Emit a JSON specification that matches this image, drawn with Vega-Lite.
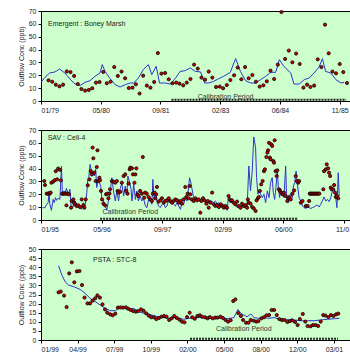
{
"$schema": "https://vega.github.io/schema/vega-lite/v6.json",
"padding": {"left": 16, "top": 6, "right": 0, "bottom": 0},
"spacing": 29,
"bounds": "flush",
"config": {
  "view": {"fill": "#ccffcc", "stroke": "#000", "strokeWidth": 1},
  "font": "Liberation Sans",
  "axis": {"grid": false, "labelOverlap": false, "tickCount": 30, "labelFontSize": 7, "titleFontSize": 7, "titleFontWeight": "normal", "labelColor": "#222", "titleColor": "#222", "domainColor": "#000", "tickColor": "#000", "tickSize": 3, "labelPadding": 2, "titlePadding": 4}
},
"datasets": {
  "p1line": [
    {"date":"1979-01-01","value":14.5},{"date":"1979-02-03","value":18.4},{"date":"1979-03-15","value":21.8},{"date":"1979-04-28","value":22.6},{"date":"1979-06-06","value":24.9},{"date":"1979-07-19","value":21.8},{"date":"1979-09-01","value":17.1},{"date":"1979-10-12","value":13.2},{"date":"1979-11-24","value":12},{"date":"1980-01-04","value":14.5},{"date":"1980-02-15","value":15.8},{"date":"1980-03-28","value":19.2},{"date":"1980-05-09","value":21.8},{"date":"1980-05-28","value":28.3},{"date":"1980-06-20","value":23},{"date":"1980-08-01","value":17.4},{"date":"1980-09-12","value":12.7},{"date":"1980-10-24","value":10.9},{"date":"1980-12-06","value":12.7},{"date":"1981-01-18","value":14},{"date":"1981-02-15","value":14},{"date":"1981-03-26","value":17.9},{"date":"1981-05-06","value":24.4},{"date":"1981-06-18","value":28.3},{"date":"1981-07-16","value":20.5},{"date":"1981-08-22","value":27},{"date":"1981-09-19","value":14},{"date":"1981-11-06","value":14},{"date":"1981-12-18","value":13.2},{"date":"1982-02-01","value":17.9},{"date":"1982-03-10","value":23},{"date":"1982-04-22","value":23.6},{"date":"1982-06-03","value":25.7},{"date":"1982-07-16","value":23},{"date":"1982-08-28","value":22.6},{"date":"1982-10-01","value":14},{"date":"1982-11-06","value":14},{"date":"1982-12-16","value":15.3},{"date":"1983-01-28","value":17.4},{"date":"1983-03-10","value":19.2},{"date":"1983-05-04","value":22.3},{"date":"1983-06-18","value":33},{"date":"1983-07-28","value":23},{"date":"1983-09-09","value":15.8},{"date":"1983-10-21","value":14},{"date":"1983-12-01","value":14},{"date":"1984-01-13","value":16.6},{"date":"1984-02-25","value":19.2},{"date":"1984-04-06","value":22.3},{"date":"1984-05-18","value":22.3},{"date":"1984-06-18","value":32.2},{"date":"1984-07-25","value":27},{"date":"1984-09-21","value":21.8},{"date":"1984-10-18","value":13.2},{"date":"1984-12-01","value":13.2},{"date":"1985-01-12","value":16.6},{"date":"1985-02-22","value":17.9},{"date":"1985-04-04","value":21.8},{"date":"1985-05-16","value":26.4},{"date":"1985-06-13","value":33},{"date":"1985-07-10","value":23},{"date":"1985-08-22","value":21.8},{"date":"1985-10-04","value":16.6},{"date":"1985-11-16","value":14},{"date":"1985-12-13","value":14.5}
  ],
  "p1obs": [
    {"date":"1979-03-05","value":16.1},{"date":"1979-04-05","value":15},{"date":"1979-05-05","value":12.7},{"date":"1979-06-05","value":11.4},{"date":"1979-07-05","value":12.7},{"date":"1979-08-05","value":23},{"date":"1979-09-05","value":22.5},{"date":"1979-10-05","value":19.5},{"date":"1979-11-05","value":13.2},{"date":"1979-12-05","value":9.3},
    {"date":"1980-01-05","value":8.1},{"date":"1980-02-05","value":8.6},{"date":"1980-03-05","value":9.9},{"date":"1980-04-05","value":14.3},{"date":"1980-05-05","value":14.8},{"date":"1980-06-05","value":22.6},{"date":"1980-07-05","value":13.8},{"date":"1980-08-05","value":15},{"date":"1980-09-05","value":26.4},{"date":"1980-10-05","value":19.5},{"date":"1980-11-05","value":22.9},{"date":"1980-12-05","value":17.7},
    {"date":"1981-01-05","value":10.1},{"date":"1981-02-05","value":10.4},{"date":"1981-03-05","value":13},{"date":"1981-04-05","value":5.8},{"date":"1981-05-05","value":19.7},{"date":"1981-06-05","value":12},{"date":"1981-07-05","value":10.4},{"date":"1981-08-05","value":14.8},{"date":"1981-09-05","value":37.3},{"date":"1981-10-05","value":21.3},{"date":"1981-11-05","value":21.8},{"date":"1981-12-05","value":16.9},
    {"date":"1982-01-05","value":13.8},{"date":"1982-02-05","value":14.3},{"date":"1982-03-05","value":13.5},{"date":"1982-04-05","value":12.2},{"date":"1982-05-05","value":14.3},{"date":"1982-06-05","value":17.1},{"date":"1982-07-05","value":28.3},{"date":"1982-08-05","value":25.2},{"date":"1982-09-05","value":18.2},{"date":"1982-10-05","value":16.6},{"date":"1982-11-05","value":22.9},{"date":"1982-12-05","value":18.2},
    {"date":"1983-01-05","value":10.9},{"date":"1983-02-05","value":11.2},{"date":"1983-03-05","value":9.9},{"date":"1983-04-05","value":12.4},{"date":"1983-05-05","value":16.3},{"date":"1983-06-05","value":20},{"date":"1983-07-05","value":26},{"date":"1983-08-05","value":16.9},{"date":"1983-09-05","value":26.4},{"date":"1983-10-05","value":17.7},{"date":"1983-11-05","value":20.2},{"date":"1983-12-05","value":15},
    {"date":"1984-01-05","value":11.2},{"date":"1984-02-05","value":12.2},{"date":"1984-03-05","value":15.3},{"date":"1984-04-05","value":23.6},{"date":"1984-05-05","value":17.1},{"date":"1984-06-05","value":28.3},{"date":"1984-07-05","value":69.2},{"date":"1984-08-05","value":32.7},{"date":"1984-09-05","value":39.2},{"date":"1984-10-05","value":30.1},{"date":"1984-11-05","value":36.9},{"date":"1984-12-05","value":28.8},
    {"date":"1985-01-05","value":10.4},{"date":"1985-02-05","value":12.7},{"date":"1985-03-05","value":10.9},{"date":"1985-04-05","value":12},{"date":"1985-05-05","value":32.4},{"date":"1985-06-05","value":26.4},{"date":"1985-07-05","value":59.4},{"date":"1985-08-05","value":37.1},{"date":"1985-09-05","value":22.9},{"date":"1985-10-05","value":21.5},{"date":"1985-11-05","value":28.8},{"date":"1985-12-05","value":22.5},{"date":"1986-01-05","value":14}
  ],
  "p1cal": [{"start":"1981-12-28","end":"1985-12-28","y":1}],
  "p1text": [{"date":"1979-03-01","value":60,"label":"Emergent : Boney Marsh","kind":"site"},{"date":"1983-03-26","value":3.3,"label":"Calibration Period","kind":"cal"}],
  "p2line": [
    {"date":"1995-01-14","value":9.6},{"date":"1995-02-03","value":9.6},{"date":"1995-02-17","value":12.2},{"date":"1995-03-01","value":13.5},{"date":"1995-03-09","value":22.6},{"date":"1995-03-14","value":12.7},{"date":"1995-03-28","value":7.5},{"date":"1995-04-11","value":16},{"date":"1995-04-20","value":13.5},{"date":"1995-05-01","value":17.4},{"date":"1995-05-09","value":15.3},{"date":"1995-05-22","value":16.9},{"date":"1995-06-06","value":16},{"date":"1995-06-19","value":42},{"date":"1995-06-27","value":18.7},{"date":"1995-07-09","value":22.6},{"date":"1995-07-20","value":21.3},{"date":"1995-07-30","value":24.6},{"date":"1995-08-14","value":20},{"date":"1995-08-28","value":23.9},{"date":"1995-09-06","value":10.9},{"date":"1995-09-19","value":9.6},{"date":"1995-09-30","value":13.5},{"date":"1995-10-11","value":14.8},{"date":"1995-10-22","value":12.2},{"date":"1995-11-05","value":9.6},{"date":"1995-11-19","value":10.1},{"date":"1995-12-03","value":8.3},{"date":"1995-12-16","value":13.5},{"date":"1995-12-30","value":10.9},
    {"date":"1996-01-14","value":21.3},{"date":"1996-01-22","value":31.6},{"date":"1996-01-30","value":32.9},{"date":"1996-02-10","value":43.3},{"date":"1996-02-19","value":39.4},{"date":"1996-02-27","value":34.2},{"date":"1996-03-08","value":38},{"date":"1996-03-16","value":34.2},{"date":"1996-03-27","value":39.4},{"date":"1996-04-05","value":25.2},{"date":"1996-04-19","value":32.9},{"date":"1996-04-27","value":29},{"date":"1996-05-08","value":26.4},{"date":"1996-05-17","value":16.9},{"date":"1996-05-30","value":14.8},{"date":"1996-06-13","value":11.7},{"date":"1996-06-27","value":7.5},{"date":"1996-07-10","value":14.8},{"date":"1996-07-24","value":21.3},{"date":"1996-08-08","value":32.9},{"date":"1996-08-21","value":22.6},{"date":"1996-09-05","value":14.8},{"date":"1996-09-18","value":22.6},{"date":"1996-10-02","value":14.8},{"date":"1996-10-16","value":24.6},{"date":"1996-10-29","value":28.3},{"date":"1996-11-13","value":18.7},{"date":"1996-11-26","value":26.4},{"date":"1996-12-10","value":20},{"date":"1996-12-18","value":34.2},
    {"date":"1997-01-02","value":29},{"date":"1997-01-13","value":23.9},{"date":"1997-01-21","value":14.8},{"date":"1997-02-04","value":27.7},{"date":"1997-02-18","value":16},{"date":"1997-03-02","value":22.6},{"date":"1997-03-15","value":14.8},{"date":"1997-03-29","value":18.7},{"date":"1997-04-12","value":14.8},{"date":"1997-04-26","value":16.9},{"date":"1997-05-09","value":11.7},{"date":"1997-05-23","value":9.6},{"date":"1997-06-07","value":16},{"date":"1997-06-20","value":16.9},{"date":"1997-07-04","value":12.2},{"date":"1997-07-12","value":31.6},{"date":"1997-07-23","value":16},{"date":"1997-08-04","value":22.6},{"date":"1997-08-15","value":14.8},{"date":"1997-08-28","value":10.9},{"date":"1997-09-12","value":9.6},{"date":"1997-09-25","value":12.2},{"date":"1997-10-09","value":13.5},{"date":"1997-10-23","value":9.6},{"date":"1997-11-06","value":10.9},{"date":"1997-11-20","value":16},{"date":"1997-12-04","value":13.5},{"date":"1997-12-17","value":14.8},{"date":"1997-12-31","value":12.2},
    {"date":"1998-01-14","value":10.9},{"date":"1998-01-28","value":13.5},{"date":"1998-02-11","value":10.9},{"date":"1998-02-25","value":8.3},{"date":"1998-03-09","value":13.5},{"date":"1998-03-22","value":11.7},{"date":"1998-04-06","value":17.4},{"date":"1998-04-20","value":14.8},{"date":"1998-05-03","value":25.2},{"date":"1998-05-11","value":32.9},{"date":"1998-05-22","value":29},{"date":"1998-06-03","value":22.6},{"date":"1998-06-14","value":17.4},{"date":"1998-06-28","value":16.9},{"date":"1998-07-11","value":15.3},{"date":"1998-07-25","value":16.9},{"date":"1998-08-08","value":16},{"date":"1998-08-22","value":14.8},{"date":"1998-09-05","value":16.9},{"date":"1998-09-19","value":15.3},{"date":"1998-10-03","value":14.8},{"date":"1998-10-16","value":13.5},{"date":"1998-10-30","value":15.3},{"date":"1998-11-13","value":14.3},{"date":"1998-11-27","value":13.5},{"date":"1998-12-11","value":14.8},{"date":"1998-12-24","value":12.2},
    {"date":"1999-01-08","value":13.5},{"date":"1999-01-22","value":11.7},{"date":"1999-02-05","value":12.7},{"date":"1999-02-18","value":10.9},{"date":"1999-03-02","value":9.6},{"date":"1999-03-16","value":7.5},{"date":"1999-03-29","value":18.7},{"date":"1999-04-13","value":16},{"date":"1999-04-26","value":14.8},{"date":"1999-05-10","value":13.5},{"date":"1999-05-24","value":11.7},{"date":"1999-06-07","value":9.6},{"date":"1999-06-21","value":10.9},{"date":"1999-07-05","value":8.3},{"date":"1999-07-18","value":12.2},{"date":"1999-08-02","value":9.6},{"date":"1999-08-16","value":10.9},{"date":"1999-08-29","value":9.6},{"date":"1999-09-12","value":42},{"date":"1999-09-26","value":22.6},{"date":"1999-10-10","value":38},{"date":"1999-10-23","value":64.6},{"date":"1999-11-07","value":56.3},{"date":"1999-11-15","value":32.9},{"date":"1999-11-26","value":20},{"date":"1999-12-04","value":22.6},{"date":"1999-12-18","value":20},
    {"date":"2000-01-01","value":17.4},{"date":"2000-01-15","value":20},{"date":"2000-01-29","value":13.5},{"date":"2000-02-12","value":22.6},{"date":"2000-02-26","value":17.4},{"date":"2000-03-09","value":29},{"date":"2000-03-23","value":32.9},{"date":"2000-04-01","value":21.3},{"date":"2000-04-12","value":16},{"date":"2000-04-23","value":25.2},{"date":"2000-05-04","value":39.4},{"date":"2000-05-12","value":26.4},{"date":"2000-05-23","value":17.4},{"date":"2000-06-01","value":24.6},{"date":"2000-06-15","value":20},{"date":"2000-06-28","value":17.4},{"date":"2000-07-12","value":42},{"date":"2000-07-20","value":17.4},{"date":"2000-08-01","value":13.5},{"date":"2000-08-12","value":18.7},{"date":"2000-08-23","value":20.5},{"date":"2000-09-06","value":17.4},{"date":"2000-09-14","value":26.4},{"date":"2000-09-25","value":29},{"date":"2000-10-06","value":38},{"date":"2000-10-17","value":27.7},{"date":"2000-10-31","value":17.4},{"date":"2000-11-14","value":14.8},{"date":"2000-11-28","value":10.9},{"date":"2000-12-11","value":9.6},{"date":"2000-12-25","value":9},
    {"date":"2001-01-09","value":10.1},{"date":"2001-01-22","value":9.6},{"date":"2001-02-05","value":9},{"date":"2001-02-18","value":9.6},{"date":"2001-03-03","value":10.1},{"date":"2001-03-16","value":10.9},{"date":"2001-03-30","value":11.7},{"date":"2001-04-14","value":10.1},{"date":"2001-04-27","value":12.2},{"date":"2001-05-11","value":14.8},{"date":"2001-05-25","value":17.9},{"date":"2001-06-08","value":14.8},{"date":"2001-06-22","value":16},{"date":"2001-07-05","value":14.3},{"date":"2001-07-19","value":17.4},{"date":"2001-08-02","value":22.6},{"date":"2001-08-16","value":23.9},{"date":"2001-08-30","value":17.4},{"date":"2001-09-08","value":9.6},{"date":"2001-09-19","value":36.8},{"date":"2001-09-27","value":18.7}
  ],
  "p2obs": [
    {"date":"1995-01-28","value":30.3},{"date":"1995-02-03","value":27.2},{"date":"1995-02-17","value":20.5},{"date":"1995-03-01","value":20.5},{"date":"1995-03-14","value":20.5},{"date":"1995-03-22","value":21.3},{"date":"1995-03-28","value":29},{"date":"1995-04-11","value":29.8},{"date":"1995-04-25","value":31},{"date":"1995-05-03","value":38},{"date":"1995-05-14","value":31.6},{"date":"1995-05-22","value":40},{"date":"1995-06-06","value":39},{"date":"1995-06-14","value":30.9},{"date":"1995-06-25","value":20.5},{"date":"1995-07-06","value":20.5},{"date":"1995-07-17","value":20.5},{"date":"1995-07-28","value":20.5},{"date":"1995-08-08","value":20.5},{"date":"1995-08-20","value":20},{"date":"1995-07-30","value":11.4},{"date":"1995-09-06","value":9.6},{"date":"1995-09-11","value":14.8},{"date":"1995-09-25","value":16},{"date":"1995-09-30","value":13.5},{"date":"1995-10-08","value":12.2},{"date":"1995-10-22","value":10.9},{"date":"1995-11-05","value":11.4},{"date":"1995-11-19","value":10.1},{"date":"1995-12-03","value":16},{"date":"1995-12-16","value":11.4},{"date":"1995-12-25","value":9.6},
    {"date":"1996-01-05","value":16},{"date":"1996-01-22","value":27},{"date":"1996-02-05","value":31.6},{"date":"1996-02-16","value":38},{"date":"1996-02-24","value":35.5},{"date":"1996-03-02","value":56.3},{"date":"1996-03-08","value":48},{"date":"1996-03-16","value":36.8},{"date":"1996-03-27","value":30.3},{"date":"1996-04-05","value":41.2},{"date":"1996-04-11","value":54.2},{"date":"1996-04-19","value":30.3},{"date":"1996-04-27","value":32.9},{"date":"1996-05-02","value":30.9},{"date":"1996-05-10","value":22.6},{"date":"1996-05-19","value":16},{"date":"1996-05-30","value":12.7},{"date":"1996-06-13","value":11.4},{"date":"1996-06-21","value":20},{"date":"1996-07-02","value":20.5},{"date":"1996-07-10","value":16.9},{"date":"1996-07-19","value":20.5},{"date":"1996-07-24","value":23.9},{"date":"1996-08-08","value":30.3},{"date":"1996-08-21","value":29.8},{"date":"1996-09-05","value":29},{"date":"1996-09-18","value":30.3},{"date":"1996-09-24","value":22.6},{"date":"1996-10-02","value":21.3},{"date":"1996-10-16","value":22},{"date":"1996-10-29","value":29},{"date":"1996-11-13","value":34.2},{"date":"1996-11-26","value":35.5},{"date":"1996-12-05","value":22.6},{"date":"1996-12-15","value":20.5},{"date":"1996-12-24","value":28.3},
    {"date":"1997-01-02","value":39.4},{"date":"1997-01-07","value":40.7},{"date":"1997-01-21","value":40.2},{"date":"1997-01-29","value":35.5},{"date":"1997-02-10","value":29},{"date":"1997-02-18","value":35.5},{"date":"1997-02-26","value":40.2},{"date":"1997-03-07","value":20},{"date":"1997-03-15","value":18.7},{"date":"1997-03-29","value":22.6},{"date":"1997-04-12","value":20.5},{"date":"1997-04-20","value":49},{"date":"1997-05-01","value":17.4},{"date":"1997-05-09","value":21.3},{"date":"1997-05-23","value":20.5},{"date":"1997-06-07","value":17.9},{"date":"1997-06-20","value":16},{"date":"1997-07-04","value":14.8},{"date":"1997-07-12","value":20.5},{"date":"1997-07-23","value":21.3},{"date":"1997-08-01","value":16.9},{"date":"1997-08-09","value":20},{"date":"1997-08-15","value":25.7},{"date":"1997-08-28","value":14.3},{"date":"1997-09-12","value":15.3},{"date":"1997-09-25","value":16.9},{"date":"1997-10-09","value":13.5},{"date":"1997-10-23","value":14.8},{"date":"1997-11-06","value":15.3},{"date":"1997-11-20","value":16.9},{"date":"1997-12-04","value":14.8},{"date":"1997-12-17","value":13.5},{"date":"1997-12-31","value":14.8},
    {"date":"1998-01-14","value":16},{"date":"1998-01-28","value":15.3},{"date":"1998-02-11","value":13.5},{"date":"1998-02-25","value":14.8},{"date":"1998-03-09","value":12.7},{"date":"1998-03-22","value":16},{"date":"1998-04-06","value":25.7},{"date":"1998-04-14","value":17.9},{"date":"1998-04-25","value":20.5},{"date":"1998-05-03","value":16.9},{"date":"1998-05-11","value":26.4},{"date":"1998-05-17","value":20},{"date":"1998-05-30","value":16},{"date":"1998-06-14","value":14.8},{"date":"1998-06-28","value":16.9},{"date":"1998-07-11","value":15.3},{"date":"1998-07-25","value":16},{"date":"1998-08-08","value":5.7},{"date":"1998-08-16","value":14.8},{"date":"1998-08-30","value":16.9},{"date":"1998-09-11","value":15.3},{"date":"1998-09-27","value":12.7},{"date":"1998-10-08","value":14.8},{"date":"1998-10-16","value":9.6},{"date":"1998-10-30","value":13.5},{"date":"1998-11-13","value":21.3},{"date":"1998-11-27","value":12.2},{"date":"1998-12-11","value":10.9},{"date":"1998-12-24","value":11.7},
    {"date":"1999-01-08","value":10.1},{"date":"1999-01-22","value":12.2},{"date":"1999-02-05","value":10.9},{"date":"1999-02-18","value":9.6},{"date":"1999-03-02","value":10.9},{"date":"1999-03-16","value":9.6},{"date":"1999-03-29","value":18.7},{"date":"1999-04-07","value":16},{"date":"1999-04-18","value":14.8},{"date":"1999-04-26","value":15.3},{"date":"1999-05-10","value":13.5},{"date":"1999-05-24","value":12.2},{"date":"1999-06-07","value":14.3},{"date":"1999-06-21","value":10.9},{"date":"1999-07-05","value":9.6},{"date":"1999-07-18","value":12.7},{"date":"1999-08-02","value":10.9},{"date":"1999-08-16","value":11.7},{"date":"1999-08-29","value":9.6},{"date":"1999-09-04","value":16},{"date":"1999-09-12","value":13.5},{"date":"1999-09-26","value":12.7},{"date":"1999-10-10","value":10.1},{"date":"1999-10-23","value":9},{"date":"1999-11-07","value":7},{"date":"1999-11-15","value":15.3},{"date":"1999-11-26","value":16.9},{"date":"1999-12-04","value":17.9},{"date":"1999-12-12","value":22.6},{"date":"1999-12-23","value":27.7},
    {"date":"2000-01-04","value":30.3},{"date":"2000-01-15","value":38},{"date":"2000-01-23","value":39.4},{"date":"2000-02-04","value":49},{"date":"2000-02-12","value":52.4},{"date":"2000-02-18","value":54.2},{"date":"2000-02-26","value":60},{"date":"2000-03-04","value":48.5},{"date":"2000-03-09","value":47.2},{"date":"2000-03-15","value":58.9},{"date":"2000-03-23","value":57.6},{"date":"2000-04-01","value":45.9},{"date":"2000-04-07","value":44.6},{"date":"2000-04-12","value":62},{"date":"2000-04-20","value":38},{"date":"2000-04-29","value":34.2},{"date":"2000-05-04","value":38.6},{"date":"2000-05-17","value":23.9},{"date":"2000-05-26","value":22.6},{"date":"2000-06-07","value":21.3},{"date":"2000-06-15","value":20},{"date":"2000-06-28","value":21.3},{"date":"2000-07-12","value":18.7},{"date":"2000-07-26","value":14.8},{"date":"2000-08-04","value":16.9},{"date":"2000-08-12","value":17.9},{"date":"2000-08-23","value":16},{"date":"2000-09-06","value":20.5},{"date":"2000-09-20","value":23},{"date":"2000-10-03","value":34.2},{"date":"2000-10-12","value":30.3},{"date":"2000-10-23","value":29},{"date":"2000-10-31","value":30.3},{"date":"2000-11-14","value":13.5},{"date":"2000-11-28","value":14.8},{"date":"2000-12-25","value":10.9},
    {"date":"2001-01-09","value":10.9},{"date":"2001-01-22","value":14.8},{"date":"2001-01-27","value":20.5},{"date":"2001-02-03","value":20.5},{"date":"2001-02-12","value":20.5},{"date":"2001-02-21","value":20.5},{"date":"2001-03-02","value":20.5},{"date":"2001-03-11","value":20.5},{"date":"2001-03-20","value":20.5},{"date":"2001-03-29","value":20.5},{"date":"2001-04-07","value":20.5},{"date":"2001-04-16","value":20.5},{"date":"2001-05-19","value":23.9},{"date":"2001-05-25","value":38},{"date":"2001-06-08","value":39.4},{"date":"2001-06-16","value":43.3},{"date":"2001-06-27","value":40.2},{"date":"2001-07-05","value":36.8},{"date":"2001-07-14","value":34.2},{"date":"2001-07-19","value":25.2},{"date":"2001-07-27","value":23.9},{"date":"2001-08-08","value":23.9},{"date":"2001-08-16","value":27.2},{"date":"2001-08-24","value":21.3},{"date":"2001-08-30","value":17.9},{"date":"2001-09-08","value":18.7},{"date":"2001-09-19","value":16.9}
  ],
  "p2cal": [{"start":"1996-05-03","end":"2000-10-20","y":1}],
  "p2text": [{"date":"1995-02-25","value":63.5,"label":"SAV : Cell-4","kind":"site"},{"date":"1997-01-07","value":6.2,"label":"Calibration Period","kind":"cal"}],
  "p3line": [
    {"date":"1999-02-18","value":40.8},{"date":"1999-02-27","value":35.7},{"date":"1999-03-08","value":32},{"date":"1999-03-17","value":30.2},{"date":"1999-03-31","value":29.3},{"date":"1999-04-18","value":27.8},{"date":"1999-05-02","value":25.6},{"date":"1999-05-15","value":22.9},{"date":"1999-05-29","value":21.1},{"date":"1999-06-12","value":19.2},{"date":"1999-06-25","value":17.4},{"date":"1999-07-09","value":16.1},{"date":"1999-07-23","value":16.1},{"date":"1999-08-01","value":17.4},{"date":"1999-08-15","value":17.8},{"date":"1999-08-28","value":16.8},{"date":"1999-09-11","value":17.4},{"date":"1999-09-25","value":15.6},{"date":"1999-10-08","value":14.7},{"date":"1999-10-22","value":14.3},{"date":"1999-11-05","value":13.4},{"date":"1999-11-18","value":12.8},{"date":"1999-12-02","value":12.3},{"date":"1999-12-16","value":11.9},{"date":"1999-12-30","value":12.3},{"date":"2000-01-12","value":11.9},{"date":"2000-01-26","value":11.4},{"date":"2000-02-09","value":11.9},{"date":"2000-02-22","value":12.3},{"date":"2000-03-12","value":12.3},{"date":"2000-03-30","value":11.9},{"date":"2000-04-17","value":12.1},{"date":"2000-05-05","value":11.9},{"date":"2000-05-24","value":11.7},{"date":"2000-06-11","value":12.3},{"date":"2000-06-22","value":16.8},{"date":"2000-06-29","value":14.7},{"date":"2000-07-08","value":13.7},{"date":"2000-07-17","value":12.8},{"date":"2000-07-27","value":14.3},{"date":"2000-08-05","value":12.3},{"date":"2000-08-18","value":11.9},{"date":"2000-09-01","value":12.3},{"date":"2000-09-15","value":11.9},{"date":"2000-09-29","value":12.3},{"date":"2000-10-12","value":11.5},{"date":"2000-10-26","value":11.4},{"date":"2000-11-09","value":11},{"date":"2000-11-22","value":11},{"date":"2000-12-11","value":10.6},{"date":"2000-12-29","value":10.6},{"date":"2001-01-16","value":10.6},{"date":"2001-02-03","value":11},{"date":"2001-02-22","value":11.4},{"date":"2001-03-12","value":11.7},{"date":"2001-03-26","value":11.9}
  ],
  "p3obs": [
    {"date":"1999-02-18","value":26.2},{"date":"1999-02-24","value":26.6},{"date":"1999-03-05","value":24.4},{"date":"1999-03-12","value":18.1},{"date":"1999-03-19","value":36.6},{"date":"1999-03-26","value":42.7},{"date":"1999-04-02","value":31.7},{"date":"1999-04-09","value":37.7},{"date":"1999-04-16","value":37.9},{"date":"1999-04-23","value":30.2},{"date":"1999-04-30","value":23.3},{"date":"1999-05-08","value":20.1},{"date":"1999-05-15","value":20.1},{"date":"1999-05-22","value":21.6},{"date":"1999-05-29","value":22.9},{"date":"1999-06-04","value":24.5},{"date":"1999-06-11","value":23.3},{"date":"1999-06-18","value":19.6},{"date":"1999-06-25","value":16.8},{"date":"1999-07-01","value":15},{"date":"1999-07-09","value":14.1},{"date":"1999-07-16","value":13.6},{"date":"1999-07-23","value":14.5},{"date":"1999-07-30","value":17.8},{"date":"1999-08-06","value":17.9},{"date":"1999-08-13","value":17.8},{"date":"1999-08-21","value":17.9},{"date":"1999-08-27","value":17.2},{"date":"1999-09-03","value":16.5},{"date":"1999-09-10","value":15.9},{"date":"1999-09-17","value":15.6},{"date":"1999-09-24","value":15.9},{"date":"1999-10-01","value":16.8},{"date":"1999-10-08","value":16.1},{"date":"1999-10-15","value":14.7},{"date":"1999-10-22","value":13.4},{"date":"1999-10-29","value":12.5},{"date":"1999-11-05","value":12.5},{"date":"1999-11-12","value":11.5},{"date":"1999-11-19","value":12.1},{"date":"1999-11-26","value":12.8},{"date":"1999-12-03","value":13.2},{"date":"1999-12-10","value":12.8},{"date":"1999-12-17","value":11},{"date":"1999-12-24","value":11.9},{"date":"1999-12-31","value":13.2},
    {"date":"2000-01-07","value":12.1},{"date":"2000-01-14","value":11.2},{"date":"2000-01-21","value":10.1},{"date":"2000-01-28","value":9.7},{"date":"2000-02-04","value":12.6},{"date":"2000-02-11","value":15},{"date":"2000-02-18","value":12.5},{"date":"2000-02-25","value":11.7},{"date":"2000-03-03","value":13.2},{"date":"2000-03-10","value":13.6},{"date":"2000-03-16","value":12.8},{"date":"2000-03-24","value":12.5},{"date":"2000-03-31","value":11.9},{"date":"2000-04-06","value":12.6},{"date":"2000-04-14","value":11.9},{"date":"2000-04-21","value":12.3},{"date":"2000-04-27","value":12.3},{"date":"2000-05-05","value":12.8},{"date":"2000-05-12","value":12.1},{"date":"2000-05-19","value":11},{"date":"2000-05-26","value":10.1},{"date":"2000-06-02","value":10.8},{"date":"2000-06-09","value":21.4},{"date":"2000-06-15","value":22.3},{"date":"2000-06-23","value":14.8},{"date":"2000-06-30","value":13.2},{"date":"2000-07-06","value":11},{"date":"2000-07-14","value":9.5},{"date":"2000-07-21","value":9.5},{"date":"2000-07-27","value":11},{"date":"2000-08-04","value":10.6},{"date":"2000-08-11","value":10.1},{"date":"2000-08-17","value":10.4},{"date":"2000-08-25","value":11.9},{"date":"2000-09-01","value":12.5},{"date":"2000-09-08","value":13.6},{"date":"2000-09-15","value":13.7},{"date":"2000-09-22","value":16.5},{"date":"2000-09-29","value":16.5},{"date":"2000-10-06","value":13.7},{"date":"2000-10-13","value":11.5},{"date":"2000-10-20","value":11},{"date":"2000-10-27","value":11},{"date":"2000-11-04","value":9.9},{"date":"2000-11-11","value":10.4},{"date":"2000-11-17","value":10.8},{"date":"2000-11-25","value":9.9},{"date":"2000-12-02","value":8.2},{"date":"2000-12-08","value":11.5},{"date":"2000-12-16","value":14.3},{"date":"2000-12-23","value":10.1},{"date":"2000-12-29","value":7.7},
    {"date":"2001-01-06","value":7.5},{"date":"2001-01-13","value":8.2},{"date":"2001-01-20","value":8.2},{"date":"2001-01-27","value":7.7},{"date":"2001-02-03","value":10.1},{"date":"2001-02-10","value":13.7},{"date":"2001-02-16","value":13.4},{"date":"2001-02-24","value":12.6},{"date":"2001-03-03","value":13.7},{"date":"2001-03-10","value":13.2},{"date":"2001-03-17","value":14.1},{"date":"2001-03-23","value":14.5}
  ],
  "p3cal": [{"start":"2000-02-12","end":"2001-03-22","y":0.7}],
  "p3text": [{"date":"1999-05-23","value":44,"label":"PSTA : STC-8","kind":"site"},{"date":"2000-07-08","value":6,"label":"Calibration Period","kind":"cal"}]
},
"vconcat": [
  {
    "width": 309, "height": 90,
    "layer": [
      {"data": {"name": "p1line"}, "mark": {"type": "line", "color": "#3333cc", "strokeWidth": 1, "clip": true},
       "encoding": {
         "x": {"field": "date", "type": "temporal", "scale": {"type": "utc", "domain": [{"year":1979,"month":1,"date":1,"utc":true},{"year":1986,"month":1,"date":30,"utc":true}]},
               "axis": {"title": null, "format": "%m/%y", "labelOverlap": false, "tickCount": 30, "values": [{"year":1979,"month":1,"date":1,"utc":true},{"year":1980,"month":5,"date":15,"utc":true},{"year":1981,"month":9,"date":27,"utc":true},{"year":1983,"month":2,"date":9,"utc":true},{"year":1984,"month":6,"date":23,"utc":true},{"year":1985,"month":11,"date":5,"utc":true}]}},
         "y": {"field": "value", "type": "quantitative", "scale": {"domain": [0, 70], "nice": false}, "axis": {"title": "Outflow Conc (ppb)", "labelOverlap": false, "tickCount": 30, "values": [0,10,20,30,40,50,60,70]}}
       }},
      {"data": {"name": "p1obs"}, "mark": {"type": "point", "shape": "circle", "filled": true, "fill": "#cc0000", "stroke": "#000", "strokeWidth": 0.8, "size": 10, "opacity": 1},
       "encoding": {"x": {"field": "date", "type": "temporal"}, "y": {"field": "value", "type": "quantitative"}}},
      {"data": {"name": "p1cal"}, "mark": {"type": "rule", "color": "#222", "strokeWidth": 2, "strokeDash": [2, 1]},
       "encoding": {"x": {"field": "start", "type": "temporal"}, "x2": {"field": "end"}, "y": {"field": "y", "type": "quantitative"}}},
      {"data": {"name": "p1text"}, "transform": [{"filter": "datum.kind == 'site'"}], "mark": {"type": "text", "align": "left", "baseline": "middle", "fontSize": 7, "color": "#222"},
       "encoding": {"x": {"field": "date", "type": "temporal"}, "y": {"field": "value", "type": "quantitative"}, "text": {"field": "label"}}},
      {"data": {"name": "p1text"}, "transform": [{"filter": "datum.kind == 'cal'"}], "mark": {"type": "text", "align": "center", "baseline": "middle", "fontSize": 7, "color": "#333"},
       "encoding": {"x": {"field": "date", "type": "temporal"}, "y": {"field": "value", "type": "quantitative"}, "text": {"field": "label"}}}
    ]
  },
  {
    "width": 309, "height": 90,
    "layer": [
      {"data": {"name": "p2line"}, "mark": {"type": "line", "color": "#3333cc", "strokeWidth": 1, "clip": true},
       "encoding": {
         "x": {"field": "date", "type": "temporal", "scale": {"type": "utc", "domain": [{"year":1995,"month":1,"date":1,"utc":true},{"year":2001,"month":12,"date":25,"utc":true}]},
               "axis": {"title": null, "format": "%m/%y", "labelOverlap": false, "tickCount": 30, "values": [{"year":1995,"month":1,"date":1,"utc":true},{"year":1996,"month":5,"date":15,"utc":true},{"year":1997,"month":9,"date":27,"utc":true},{"year":1999,"month":2,"date":9,"utc":true},{"year":2000,"month":6,"date":23,"utc":true},{"year":2001,"month":11,"date":5,"utc":true}]}},
         "y": {"field": "value", "type": "quantitative", "scale": {"domain": [0, 70], "nice": false}, "axis": {"title": "Outflow Conc (ppb)", "labelOverlap": false, "tickCount": 30, "values": [0,10,20,30,40,50,60,70]}}
       }},
      {"data": {"name": "p2obs"}, "mark": {"type": "point", "shape": "circle", "filled": true, "fill": "#cc0000", "stroke": "#000", "strokeWidth": 0.8, "size": 10, "opacity": 1},
       "encoding": {"x": {"field": "date", "type": "temporal"}, "y": {"field": "value", "type": "quantitative"}}},
      {"data": {"name": "p2cal"}, "mark": {"type": "rule", "color": "#222", "strokeWidth": 2, "strokeDash": [2, 1]},
       "encoding": {"x": {"field": "start", "type": "temporal"}, "x2": {"field": "end"}, "y": {"field": "y", "type": "quantitative"}}},
      {"data": {"name": "p2text"}, "transform": [{"filter": "datum.kind == 'site'"}], "mark": {"type": "text", "align": "left", "baseline": "middle", "fontSize": 7, "color": "#222"},
       "encoding": {"x": {"field": "date", "type": "temporal"}, "y": {"field": "value", "type": "quantitative"}, "text": {"field": "label"}}},
      {"data": {"name": "p2text"}, "transform": [{"filter": "datum.kind == 'cal'"}], "mark": {"type": "text", "align": "center", "baseline": "middle", "fontSize": 7, "color": "#333"},
       "encoding": {"x": {"field": "date", "type": "temporal"}, "y": {"field": "value", "type": "quantitative"}, "text": {"field": "label"}}}
    ]
  },
  {
    "width": 309, "height": 91,
    "layer": [
      {"data": {"name": "p3line"}, "mark": {"type": "line", "color": "#3333cc", "strokeWidth": 1, "clip": true},
       "encoding": {
         "x": {"field": "date", "type": "temporal", "scale": {"type": "utc", "domain": [{"year":1999,"month":1,"date":1,"utc":true},{"year":2001,"month":4,"date":24,"utc":true}]},
               "axis": {"title": null, "format": "%m/%y", "labelOverlap": false, "tickCount": 30, "values": [{"year":1999,"month":1,"date":1,"utc":true},{"year":1999,"month":4,"date":11,"utc":true},{"year":1999,"month":7,"date":20,"utc":true},{"year":1999,"month":10,"date":28,"utc":true},{"year":2000,"month":2,"date":5,"utc":true},{"year":2000,"month":5,"date":15,"utc":true},{"year":2000,"month":8,"date":23,"utc":true},{"year":2000,"month":12,"date":1,"utc":true},{"year":2001,"month":3,"date":11,"utc":true}]}},
         "y": {"field": "value", "type": "quantitative", "scale": {"domain": [0, 50], "nice": false}, "axis": {"title": "Outflow Conc (ppb)", "labelOverlap": false, "tickCount": 30, "values": [0,5,10,15,20,25,30,35,40,45,50]}}
       }},
      {"data": {"name": "p3obs"}, "mark": {"type": "point", "shape": "circle", "filled": true, "fill": "#cc0000", "stroke": "#000", "strokeWidth": 0.8, "size": 10, "opacity": 1},
       "encoding": {"x": {"field": "date", "type": "temporal"}, "y": {"field": "value", "type": "quantitative"}}},
      {"data": {"name": "p3cal"}, "mark": {"type": "rule", "color": "#222", "strokeWidth": 2, "strokeDash": [2, 1]},
       "encoding": {"x": {"field": "start", "type": "temporal"}, "x2": {"field": "end"}, "y": {"field": "y", "type": "quantitative"}}},
      {"data": {"name": "p3text"}, "transform": [{"filter": "datum.kind == 'site'"}], "mark": {"type": "text", "align": "left", "baseline": "middle", "fontSize": 7, "color": "#222"},
       "encoding": {"x": {"field": "date", "type": "temporal"}, "y": {"field": "value", "type": "quantitative"}, "text": {"field": "label"}}},
      {"data": {"name": "p3text"}, "transform": [{"filter": "datum.kind == 'cal'"}], "mark": {"type": "text", "align": "center", "baseline": "middle", "fontSize": 7, "color": "#333"},
       "encoding": {"x": {"field": "date", "type": "temporal"}, "y": {"field": "value", "type": "quantitative"}, "text": {"field": "label"}}}
    ]
  }
]
}
